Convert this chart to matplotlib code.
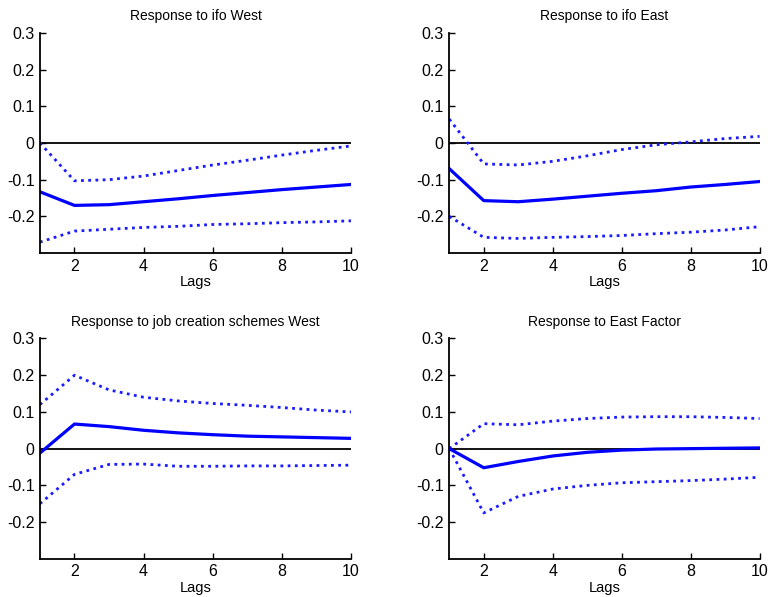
import numpy as np
import matplotlib
matplotlib.use('Agg')
import matplotlib.pyplot as plt

plt.rcParams['font.family'] = ['Liberation Sans Narrow', 'Liberation Sans', 'DejaVu Sans']

lags = np.arange(1, 11)

titles = ['Response to ifo West', 'Response to ifo East',
          'Response to job creation schemes West', 'Response to East Factor']

# impulse responses (middle) and error bands (upper / lower)
ifo_west_mid = [-0.133, -0.170, -0.168, -0.160, -0.152, -0.143, -0.135, -0.127, -0.120, -0.113]
ifo_west_up = [0.000, -0.103, -0.100, -0.090, -0.075, -0.060, -0.047, -0.033, -0.020, -0.008]
ifo_west_lo = [-0.270, -0.240, -0.235, -0.230, -0.227, -0.222, -0.220, -0.217, -0.215, -0.212]

ifo_east_mid = [-0.070, -0.157, -0.160, -0.153, -0.145, -0.137, -0.130, -0.120, -0.113, -0.105]
ifo_east_up = [0.065, -0.057, -0.060, -0.050, -0.035, -0.018, -0.005, 0.003, 0.012, 0.018]
ifo_east_lo = [-0.200, -0.257, -0.260, -0.257, -0.255, -0.252, -0.247, -0.243, -0.237, -0.228]

jobs_west_mid = [-0.012, 0.067, 0.060, 0.050, 0.043, 0.038, 0.034, 0.032, 0.030, 0.028]
jobs_west_up = [0.120, 0.200, 0.160, 0.140, 0.130, 0.123, 0.118, 0.112, 0.105, 0.100]
jobs_west_lo = [-0.150, -0.070, -0.043, -0.042, -0.048, -0.048, -0.047, -0.047, -0.046, -0.045]

east_fac_mid = [0.000, -0.052, -0.035, -0.020, -0.010, -0.004, -0.001, 0.000, 0.001, 0.002]
east_fac_up = [0.000, 0.068, 0.065, 0.075, 0.082, 0.086, 0.087, 0.087, 0.085, 0.082]
east_fac_lo = [0.000, -0.175, -0.130, -0.110, -0.100, -0.093, -0.090, -0.087, -0.083, -0.078]

series = [(ifo_west_mid, ifo_west_up, ifo_west_lo),
          (ifo_east_mid, ifo_east_up, ifo_east_lo),
          (jobs_west_mid, jobs_west_up, jobs_west_lo),
          (east_fac_mid, east_fac_up, east_fac_lo)]

fig = plt.figure(figsize=(7.68, 5.97), dpi=100)
positions = [[0.052, 0.576, 0.405, 0.369],
             [0.585, 0.576, 0.404, 0.369],
             [0.052, 0.064, 0.405, 0.369],
             [0.585, 0.064, 0.404, 0.369]]

for pos, title, (mid, up, lo) in zip(positions, titles, series):
    ax = fig.add_axes(pos)
    ax.plot(lags, np.zeros(len(lags)), color='black', lw=1.3)
    ax.plot(lags, up, color='#1a1aff', lw=2, ls=(0, (1, 1.6)))
    ax.plot(lags, lo, color='#1a1aff', lw=2, ls=(0, (1, 1.6)))
    ax.plot(lags, mid, color='#0000ff', lw=2.3)
    ax.set_xlim(1, 10)
    ax.set_ylim(-0.3, 0.3)
    ax.set_xticks([2, 4, 6, 8, 10])
    ax.set_yticks([-0.2, -0.1, 0, 0.1, 0.2, 0.3])
    ax.set_yticklabels(['-0.2', '-0.1', '0', '0.1', '0.2', '0.3'])
    ax.spines['top'].set_visible(False)
    ax.spines['right'].set_visible(False)
    ax.spines['left'].set_linewidth(1.3)
    ax.spines['bottom'].set_linewidth(1.3)
    ax.tick_params(direction='in', length=4, width=1, labelsize=11.5, pad=4)
    ax.set_title(title, fontsize=10, pad=9)
    ax.set_xlabel('Lags', fontsize=10.5, labelpad=1)

plt.savefig('out.png', dpi=100)
